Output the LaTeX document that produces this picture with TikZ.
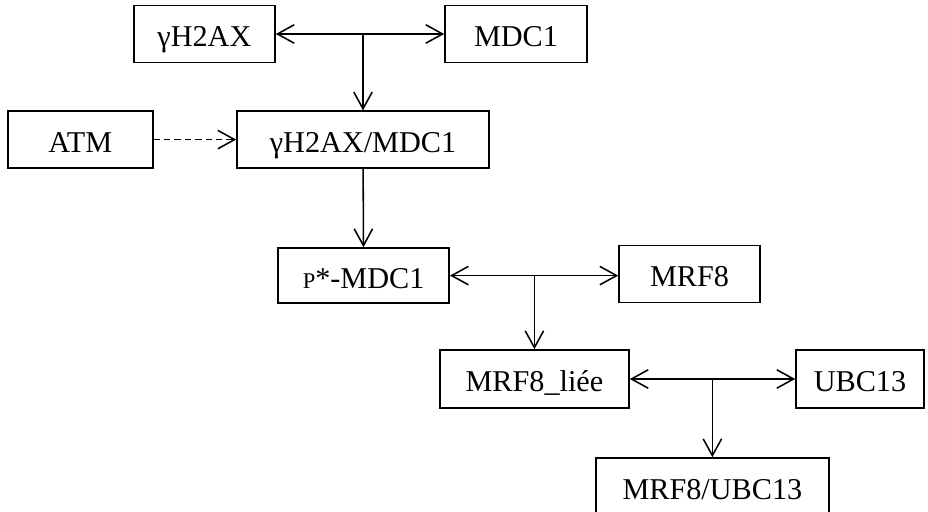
\documentclass[tikz,border=0pt]{standalone}
\usepackage{fontspec}
\setmainfont{Liberation Serif}
\usepackage{tikz}
\usetikzlibrary{arrows.meta, positioning, calc}

\begin{document}
\begin{tikzpicture}[
    box/.style={draw, line width=1.1pt, minimum height=1.42cm, inner sep=0pt, text height=18pt, text depth=0pt, font=\fontsize{21.5}{26}\selectfont},
    arr/.style={-{Straight Barb[length=0.42cm, width=0.46cm]}, line width=1.1pt},
    arr2/.style={{Straight Barb[length=0.42cm, width=0.46cm]}-{Straight Barb[length=0.42cm, width=0.46cm]}, line width=1.1pt},
]
    \useasboundingbox (0,0) rectangle (23.2,-12.8);

    \node[box, minimum width=3.53cm] (hx) at (5.11,-0.85) {γH2AX};
    \node[box, minimum width=3.55cm] (mdc) at (12.9,-0.85) {MDC1};
    \node[box, minimum width=3.62cm] (atm) at (2.01,-3.49) {ATM};
    \node[box, minimum width=6.3cm] (hxm) at (9.075,-3.49) {γH2AX/MDC1};
    \node[box, minimum width=4.28cm, minimum height=1.38cm] (pmdc) at (9.09,-6.89) {{\fontsize{16}{20}\selectfont P}*-MDC1};
    \node[box, minimum width=3.53cm] (mrf) at (17.24,-6.85) {MRF8};
    \node[box, minimum width=4.73cm, minimum height=1.45cm] (lie) at (13.36,-9.475) {MRF8\_liée};
    \node[box, minimum width=3.2cm, minimum height=1.45cm] (ubc) at (21.5,-9.475) {UBC13};
    \node[box, minimum width=5.83cm, minimum height=1.45cm] (mu) at (17.81,-12.175) {MRF8/UBC13};

    % gamma-H2AX and MDC1
    \draw[arr2] (hx) -- (mdc);
    \coordinate (j1) at (hx.east -| hxm.north);
    \draw[arr] (j1) -- (hxm.north);
    \draw[arr, dash pattern=on 0.16cm off 0.1cm] (atm) -- (hxm);
    \draw[arr] (hxm) -- (pmdc);

    % MRF8 binding
    \draw[arr2] (pmdc.east) -- (mrf.west |- pmdc.east);
    \coordinate (j2) at (pmdc.east -| lie.north);
    \draw[arr] (j2) -- (lie.north);

    % UBC13
    \draw[arr2] (lie) -- (ubc);
    \coordinate (j3) at (lie.east -| mu.north);
    \draw[arr] (j3) -- (mu.north);
\end{tikzpicture}
\end{document}
